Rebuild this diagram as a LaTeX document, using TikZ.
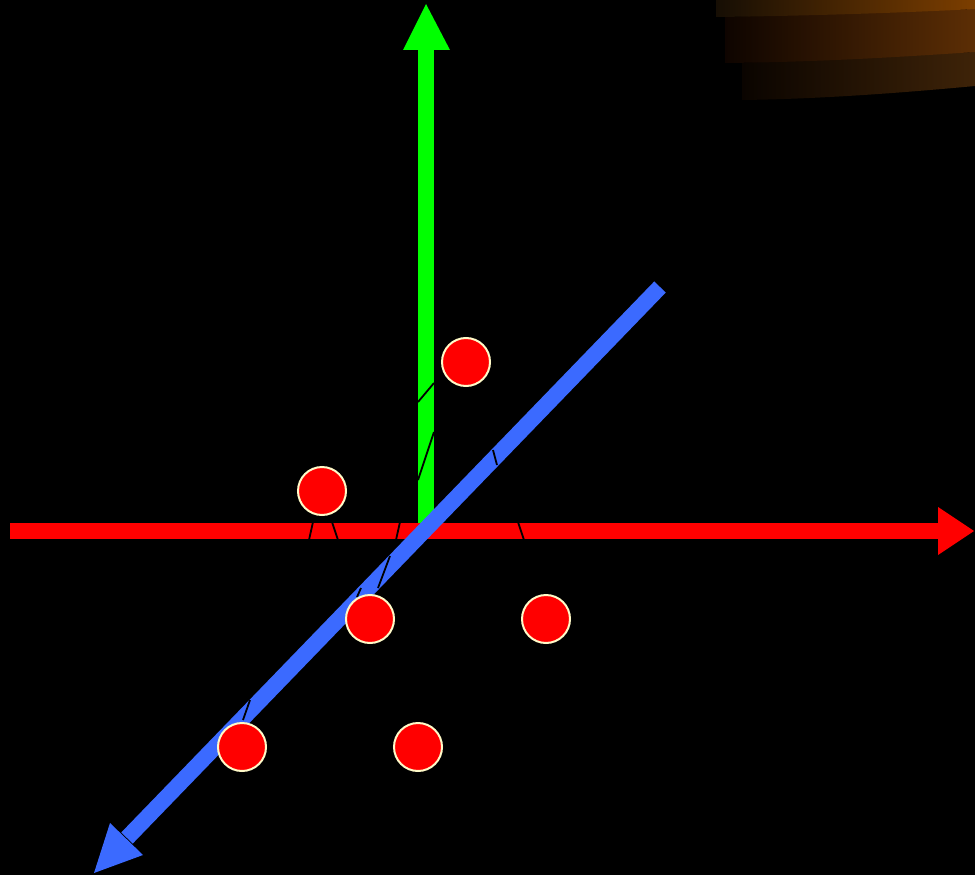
\documentclass[tikz,border=0pt]{standalone}
\usetikzlibrary{shadings}
\definecolor{axred}{RGB}{255,0,0}
\definecolor{axgreen}{RGB}{0,255,0}
\definecolor{axblue}{RGB}{59,106,255}
\definecolor{dotedge}{RGB}{255,250,200}
\definecolor{bandAl}{RGB}{22,14,4}
\definecolor{bandAr}{RGB}{124,62,0}
\definecolor{bandBl}{RGB}{14,4,0}
\definecolor{bandBr}{RGB}{92,46,5}
\definecolor{bandCl}{RGB}{10,4,0}
\definecolor{bandCr}{RGB}{62,35,8}
\tikzset{
  dot/.style={circle, fill=axred, draw=dotedge, line width=2pt, minimum size=48pt, inner sep=0pt},
  axis/.style={line width=16pt},
  proj/.style={black, line width=1.8pt}
}
\begin{document}
\begin{tikzpicture}[x=1pt,y=-1pt]
\fill[black] (0,0) rectangle (975,875);
\useasboundingbox (0,0) rectangle (975,875);
% orange bands
\shade[left color=bandCl, right color=bandCr] (742,63) -- (975,52) -- (975,86) .. controls (900,93) and (820,99) .. (742,100) -- cycle;
\shade[left color=bandBl, right color=bandBr] (725,17) -- (975,9) -- (975,52) .. controls (900,57) and (820,62) .. (725,63) -- cycle;
\shade[left color=bandAl, right color=bandAr] (716,0) -- (975,0) -- (975,9) .. controls (900,13) and (800,16) .. (716,17) -- cycle;
% axes
\coordinate (O) at (426,531);
\coordinate (xs) at (10,531);
\coordinate (xe) at (939,531);
\coordinate (ye) at (426,49);
\coordinate (zs) at (660,287);
\coordinate (ze) at (127,838);
\draw[axis, axred] (xs) -- (xe);
\fill[axred] (938,507) -- (974,531) -- (938,555) -- cycle;
\draw[axis, axgreen] (426,523) -- (ye);
\fill[axgreen] (403,50) -- (426,4) -- (450,50) -- cycle;
\draw[axis, axblue] (zs) -- (ze);
\fill[axblue] (110,823) -- (94,873) -- (143,855) -- cycle;
% projection lines visible over axes
\draw[proj] (434,383) -- (418,402);
\draw[proj] (434,432) -- (418,480);
\draw[proj] (313,522) -- (309,540);
\draw[proj] (332,522) -- (338,540);
\draw[proj] (400,522) -- (396,540);
\draw[proj] (518,522) -- (524,540);
\draw[proj] (493,450) -- (497,465);
\draw[proj] (390,556) -- (378,588);
\draw[proj] (361,588) -- (357,597);
\draw[proj] (250,700) -- (243,720);
% dots
\node[dot] (d1) at (466,362) {};
\node[dot] (d2) at (322,491) {};
\node[dot] (d3) at (370,619) {};
\node[dot] (d4) at (546,619) {};
\node[dot] (d5) at (242,747) {};
\node[dot] (d6) at (418,747) {};
\end{tikzpicture}
\end{document}
